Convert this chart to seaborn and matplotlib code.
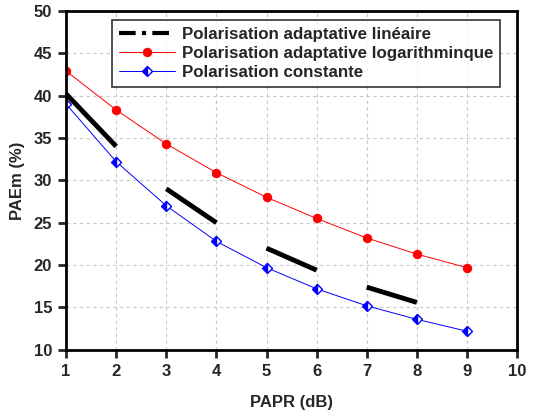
import numpy as np
import pandas as pd
import matplotlib
matplotlib.use('Agg')
import matplotlib.pyplot as plt
import seaborn as sns

# Données
papr = [1, 2, 3, 4, 5, 6, 7, 8, 9]
pae_log = [42.9, 38.3, 34.3, 30.9, 28.0, 25.5, 23.2, 21.3, 19.7]
pae_const = [39.0, 32.2, 27.0, 22.8, 19.7, 17.2, 15.2, 13.6, 12.2]
# segments de la polarisation linéaire (séparés par NaN)
papr_lin = [1, 2, np.nan, 3, 4, np.nan, 5, 6, np.nan, 7, 8]
pae_lin = [40.2, 34.0, np.nan, 29.0, 25.0, np.nan, 22.0, 19.4, np.nan, 17.4, 15.6]

sns.set_style('white')
plt.rcParams['font.family'] = ['Liberation Sans', 'DejaVu Sans']
plt.rcParams['font.weight'] = 'bold'

fig = plt.figure(figsize=(5.33, 4.16), dpi=100)
ax = fig.add_axes([0.124, 0.159, 0.846, 0.815])

ax.plot(papr_lin, pae_lin, color='black', lw=3.5, solid_capstyle='butt',
        label='Polarisation adaptative linéaire')
sns.lineplot(x=papr, y=pae_log, ax=ax, color='red', lw=0.7, marker='o',
             markersize=6, markeredgecolor='red', label='Polarisation adaptative logarithminque')
ax.plot(papr, pae_const, color='blue', lw=0.7, marker='D', markersize=5.5,
        fillstyle='left', markerfacecoloralt='white', markeredgecolor='blue',
        label='Polarisation constante')

ax.set_xlim(1, 10)
ax.set_ylim(10, 50)
ax.set_xticks(range(1, 11))
ax.set_yticks(range(10, 51, 5))
ax.grid(True, ls=(0, (3, 3)), color='#c8c8c8', lw=0.8)
for s in ax.spines.values():
    s.set_linewidth(2)
    s.set_color('black')
ax.tick_params(direction='out', length=6, width=2, labelsize=12, pad=4,
               left=True, bottom=True)
for lab in ax.get_xticklabels() + ax.get_yticklabels():
    lab.set_fontweight('bold')
ax.set_xlabel('PAPR (dB)', fontsize=12, fontweight='bold', labelpad=12)
ax.set_ylabel('PAEm (%)', fontsize=12, fontweight='bold', labelpad=6)

leg = ax.legend(loc='upper right', bbox_to_anchor=(0.962, 0.973), fontsize=12.2,
                frameon=True, fancybox=False, edgecolor='black', borderpad=0.4,
                labelspacing=0.25, handlelength=3.3, handletextpad=0.4,
                borderaxespad=0)
leg.get_frame().set_linewidth(1.2)
leg.get_lines()[0].set_linestyle((0, (4, 1.5, 1, 1.5)))
leg.get_lines()[0].set_linewidth(3)
for t in leg.get_texts():
    t.set_fontweight('bold')

fig.savefig('out.png', dpi=100)
